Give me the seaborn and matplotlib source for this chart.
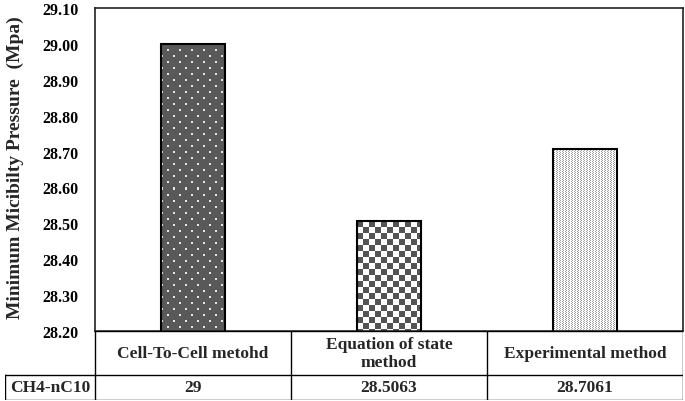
import numpy as np
import pandas as pd
import seaborn as sns
import matplotlib.pyplot as plt

# values
methods = ["Cell-To-Cell metohd", "Equation of state\nmethod", "Experimental method"]
mmp = [29.0, 28.5063, 28.7061]
value_labels = ["29", "28.5063", "28.7061"]
row_label = "CH4-nC10"
ytick_values = [28.2, 28.3, 28.4, 28.5, 28.6, 28.7, 28.8, 28.9, 29.0, 29.1]

sns.set_theme(style="white")
plt.rcParams["font.family"] = ["Liberation Serif", "DejaVu Serif"]
plt.rcParams["font.weight"] = "bold"
FS = 11.5
TFS = 12.5


def dots(h, w):
    yy, xx = np.mgrid[0:h, 0:w]
    a = np.full((h, w), 0.35)
    m = ((yy % 12 < 2) & (xx % 12 < 2)) | (((yy - 6) % 12 < 2) & ((xx - 6) % 12 < 2))
    a[m] = 0.9
    return a


def checker(h, w):
    yy, xx = np.mgrid[0:h, 0:w]
    return np.where((yy // 6 + xx // 6) % 2 == 0, 0.33, 1.0)


def stipple(h, w):
    yy, xx = np.mgrid[0:h, 0:w]
    a = np.full((h, w), 1.0)
    m = ((xx % 3 == 0) & (yy % 2 == 0)) | ((xx % 3 == 1) & (yy % 2 == 1))
    a[m] = 0.62
    return a


patterns = [dots, checker, stipple]

df = pd.DataFrame({"method": methods, "mmp": mmp})

fig = plt.figure(figsize=(6.85, 4.02), dpi=100)
ax = fig.add_axes([95 / 685, 1 - 332 / 402, 588 / 685, 323 / 402])
sns.barplot(data=df, x="method", y="mmp", ax=ax, width=0.33, color="white")

ylo, yhi = ytick_values[0], ytick_values[-1]
ax.set_ylim(ylo, yhi)
ax.set_xlim(-0.5, 2.5)
ax.set_yticks(ytick_values)
ax.set_yticklabels([f"{v:.2f}" for v in ytick_values], fontsize=FS, fontweight="bold")
ax.tick_params(axis="y", length=0, pad=12, colors="black")
ax.set_xticks([])
ax.set_xlabel("")
ax.set_ylabel("")
for s in ax.spines.values():
    s.set_visible(True)
    s.set_color("#222222")
    s.set_linewidth(1.2)

fig.canvas.draw()
for p, pat in zip(ax.patches, patterns):
    x0 = p.get_x()
    x1 = x0 + p.get_width()
    top = p.get_height()
    (px0, py0), (px1, py1) = ax.transData.transform([(x0, ylo), (x1, top)])
    w = max(int(round(px1 - px0)), 1)
    h = max(int(round(py1 - py0)), 1)
    ax.imshow(pat(h, w), cmap="gray", vmin=0, vmax=1, extent=(x0, x1, ylo, top),
              aspect="auto", interpolation="nearest", zorder=1.5)
    p.set_facecolor("none")
    p.set_edgecolor("black")
    p.set_linewidth(1.5)
    p.set_zorder(3)
ax.set_xlim(-0.5, 2.5)
ax.set_ylim(ylo, yhi)

fig.text(15 / 685, 1 - 168 / 402, "Minimum Micibilty Pressure  (Mpa)", rotation=90,
         ha="center", va="center", fontsize=14, fontweight="bold")

# table under the bars
left_w = 90 / 196
tab = fig.add_axes([5 / 685, 1 - 401 / 402, 678 / 685, 69 / 402])
tab.set_xlim(-0.5 - left_w, 2.5)
tab.set_ylim(0, 69)
tab.axis("off")
lc = dict(color="black", lw=1.0, solid_capstyle="projecting")
tab.plot([-0.5, 2.5], [69, 69], **lc)
tab.plot([-0.5 - left_w, 2.5], [25, 25], **lc)
tab.plot([-0.5 - left_w, 2.5], [0.3, 0.3], **lc)
tab.plot([-0.5 - left_w, -0.5 - left_w], [0, 25], **lc)
for xv in [-0.5, 0.5, 1.5, 2.5]:
    tab.plot([xv, xv], [0, 69], **lc)
for i, (m, v) in enumerate(zip(methods, value_labels)):
    tab.text(i, 47, m, ha="center", va="center", fontsize=TFS, fontweight="bold",
             linespacing=1.1)
    tab.text(i, 12.5, v, ha="center", va="center", fontsize=TFS, fontweight="bold")
tab.text(-0.5 - left_w / 2, 12.5, row_label, ha="center", va="center",
         fontsize=TFS, fontweight="bold")

fig.savefig("out.png", dpi=100)
